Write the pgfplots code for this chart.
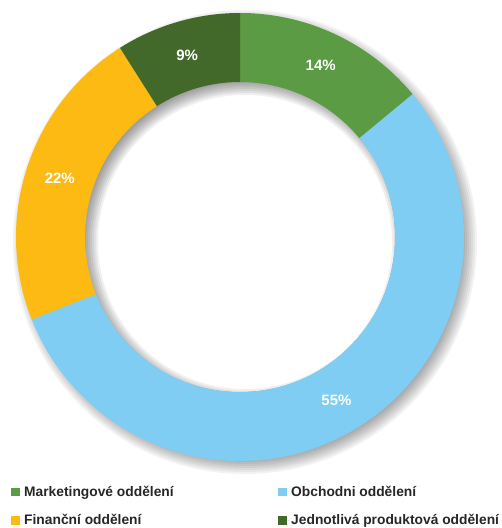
\documentclass[border=0pt]{standalone}
\usepackage{fontspec}
\setmainfont{Liberation Sans}
\usepackage{pgfplots}
\usepackage{pgfplotstable}
\pgfplotsset{compat=1.18}

\definecolor{cMark}{HTML}{5A9B44}
\definecolor{cObch}{HTML}{7FCDF2}
\definecolor{cFin}{HTML}{FDBA12}
\definecolor{cJed}{HTML}{43692A}

\pgfplotstableread[col sep=comma]{
label,value
Marketingové oddělení,14
Obchodni oddělení,55
Finanční oddělení,22
Jednotlivá produktová oddělení,9
}\piedata

\pgfplotstablegetelem{0}{value}\of\piedata \edef\va{\pgfplotsretval}
\pgfplotstablegetelem{1}{value}\of\piedata \edef\vb{\pgfplotsretval}
\pgfplotstablegetelem{2}{value}\of\piedata \edef\vc{\pgfplotsretval}
\pgfplotstablegetelem{3}{value}\of\piedata \edef\vd{\pgfplotsretval}

\pgfmathsetmacro\aA{90}
\pgfmathsetmacro\aB{\aA-3.6*\va}
\pgfmathsetmacro\aC{\aB-3.6*\vb}
\pgfmathsetmacro\aD{\aC-3.6*\vc}
\pgfmathsetmacro\aE{\aD-3.6*\vd}
\pgfmathsetmacro\mA{(\aA+\aB)/2}
\pgfmathsetmacro\mB{(\aB+\aC)/2}
\pgfmathsetmacro\mC{(\aC+\aD)/2}
\pgfmathsetmacro\mD{(\aD+\aE)/2}

\def\cx{240}\def\cy{291}
\def\sx{245}\def\sy{286}
\def\Ro{224}\def\Ri{155}\def\Rw{69}\def\Rl{189.5}

\newcommand\donutwedge[3]{%
  \fill[#1] (axis cs:\cx,\cy) ++(#2:\Ro pt) arc[start angle=#2, end angle=#3, radius=\Ro pt]
    -- ++(#3+180:\Rw pt) arc[start angle=#3, end angle=#2, radius=\Ri pt] -- cycle;}

\begin{document}
\begin{tikzpicture}
\begin{axis}[
  x=1pt, y=1pt, xmin=0, xmax=502, ymin=0, ymax=528,
  scale only axis, hide axis, clip=false,
  legend columns=2,
  legend cell align=left,
  legend image code/.code={\fill[#1] (0pt,-4.5pt) rectangle (8.5pt,4pt);\path (0pt,0pt) -- (11.5pt,0pt);},
  legend style={at={(axis cs:8,46)}, anchor=north west, draw=none, fill=none,
    font=\bfseries\fontsize{13.8}{16}\selectfont, text=black!85,
    row sep=14pt,
    /tikz/every even column/.append style={column sep=103pt},
    nodes={inner sep=1.5pt}},
]
% outer drop shadow
\pgfplotsinvokeforeach{-8,-6,...,8}{
  \fill[black, opacity=0.05] (axis cs:\sx,\sy) circle[radius=\Ro pt + #1 pt];
}
\fill[white] (axis cs:\cx,\cy) circle[radius=\Ri pt];
% inner shadow in the hole
\begin{scope}
\clip (axis cs:\cx,\cy) circle[radius=\Ri pt];
\pgfplotsinvokeforeach{-8,-6,...,8}{
  \fill[black, opacity=0.06, even odd rule] (axis cs:\cx,\cy) circle[radius=\Ro pt]
     (axis cs:\sx,\sy) circle[radius=\Ri pt + #1 pt];
}
\end{scope}
\donutwedge{cMark}{\aA}{\aB}
\donutwedge{cObch}{\aB}{\aC}
\donutwedge{cFin}{\aC}{\aD}
\donutwedge{cJed}{\aD}{\aE}
\path (axis cs:\cx,\cy) ++(\mA:\Rl pt) node[white, font=\bfseries\fontsize{15}{18}\selectfont] {\va\%};
\path (axis cs:\cx,\cy) ++(\mB:\Rl pt) node[white, font=\bfseries\fontsize{15}{18}\selectfont] {\vb\%};
\path (axis cs:\cx,\cy) ++(\mC:\Rl pt) node[white, font=\bfseries\fontsize{15}{18}\selectfont] {\vc\%};
\path (axis cs:\cx,\cy) ++(\mD:\Rl pt) node[white, font=\bfseries\fontsize{15}{18}\selectfont] {\vd\%};
\addlegendimage{fill=cMark, draw=none}
\addlegendentry{Marketingové oddělení}
\addlegendimage{fill=cObch, draw=none}
\addlegendentry{Obchodni oddělení}
\addlegendimage{fill=cFin, draw=none}
\addlegendentry{Finanční oddělení}
\addlegendimage{fill=cJed, draw=none}
\addlegendentry{Jednotlivá produktová oddělení}
\end{axis}
\pgfresetboundingbox
\path (0,0) rectangle (502pt,528pt);
\end{tikzpicture}
\end{document}
